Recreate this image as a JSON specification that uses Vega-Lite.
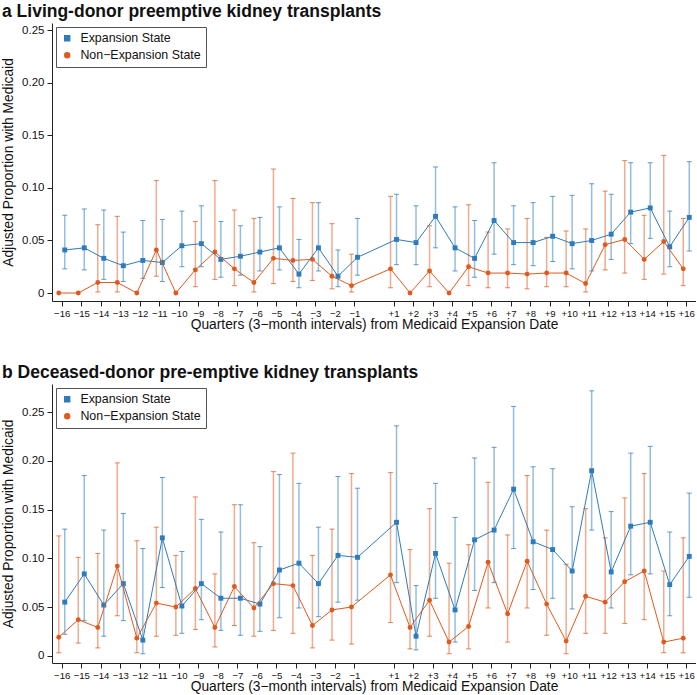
{
  "$schema": "https://vega.github.io/schema/vega-lite/v6.json",
  "padding": {"left": 1, "top": 2, "right": 0, "bottom": 0},
  "spacing": 31,
  "config": {
    "view": {"stroke": null},
    "font": "Liberation Sans",
    "axis": {"grid": false, "domainColor": "#222", "tickColor": "#222", "tickSize": 5, "labelColor": "#111", "titleColor": "#111", "titleFontWeight": "normal", "labelFont": "Liberation Sans", "titleFont": "Liberation Sans"},
    "axisX": {"labelFontSize": 9.6, "labelPadding": 2, "titleFontSize": 13.8, "titlePadding": 0, "labelFlush": false, "labelOverlap": false},
    "axisY": {"labelFontSize": 11.5, "labelPadding": 3, "titleFontSize": 13.8, "titlePadding": 6},
    "legend": {"orient": "top-left", "labelFont": "Liberation Sans", "labelFontSize": 12.4, "labelColor": "#111", "symbolSize": 24, "padding": 5, "rowPadding": 4, "labelOffset": 7, "strokeColor": "#555", "fillColor": "white", "offset": 4},
    "title": {"font": "Liberation Sans", "fontSize": 17.5, "fontWeight": "bold", "color": "#111", "anchor": "start", "frame": "group", "dx": -50, "offset": 3}
  },
  "datasets": {
    "a": [
      {"q": -16, "s": "Expansion State", "v": 0.041, "lo": 0.023, "hi": 0.074},
      {"q": -15, "s": "Expansion State", "v": 0.043, "lo": 0.022, "hi": 0.080},
      {"q": -14, "s": "Expansion State", "v": 0.033, "lo": 0.013, "hi": 0.079},
      {"q": -13, "s": "Expansion State", "v": 0.026, "lo": 0.011, "hi": 0.058},
      {"q": -12, "s": "Expansion State", "v": 0.031, "lo": 0.014, "hi": 0.069},
      {"q": -11, "s": "Expansion State", "v": 0.029, "lo": 0.011, "hi": 0.070},
      {"q": -10, "s": "Expansion State", "v": 0.045, "lo": 0.025, "hi": 0.078},
      {"q": -9, "s": "Expansion State", "v": 0.047, "lo": 0.025, "hi": 0.083},
      {"q": -8, "s": "Expansion State", "v": 0.032, "lo": 0.015, "hi": 0.068},
      {"q": -7, "s": "Expansion State", "v": 0.035, "lo": 0.017, "hi": 0.064},
      {"q": -6, "s": "Expansion State", "v": 0.039, "lo": 0.021, "hi": 0.072},
      {"q": -5, "s": "Expansion State", "v": 0.043, "lo": 0.022, "hi": 0.082},
      {"q": -4, "s": "Expansion State", "v": 0.018, "lo": 0.005, "hi": 0.051},
      {"q": -3, "s": "Expansion State", "v": 0.043, "lo": 0.021, "hi": 0.086},
      {"q": -2, "s": "Expansion State", "v": 0.016, "lo": 0.006, "hi": 0.041},
      {"q": -1, "s": "Expansion State", "v": 0.034, "lo": 0.017, "hi": 0.071},
      {"q": 1, "s": "Expansion State", "v": 0.051, "lo": 0.027, "hi": 0.094},
      {"q": 2, "s": "Expansion State", "v": 0.048, "lo": 0.027, "hi": 0.083},
      {"q": 3, "s": "Expansion State", "v": 0.073, "lo": 0.043, "hi": 0.120},
      {"q": 4, "s": "Expansion State", "v": 0.043, "lo": 0.021, "hi": 0.082},
      {"q": 5, "s": "Expansion State", "v": 0.033, "lo": 0.015, "hi": 0.069},
      {"q": 6, "s": "Expansion State", "v": 0.069, "lo": 0.037, "hi": 0.124},
      {"q": 7, "s": "Expansion State", "v": 0.048, "lo": 0.027, "hi": 0.083},
      {"q": 8, "s": "Expansion State", "v": 0.048, "lo": 0.026, "hi": 0.086},
      {"q": 9, "s": "Expansion State", "v": 0.054, "lo": 0.030, "hi": 0.092},
      {"q": 10, "s": "Expansion State", "v": 0.047, "lo": 0.023, "hi": 0.093},
      {"q": 11, "s": "Expansion State", "v": 0.050, "lo": 0.021, "hi": 0.104},
      {"q": 12, "s": "Expansion State", "v": 0.056, "lo": 0.032, "hi": 0.094},
      {"q": 13, "s": "Expansion State", "v": 0.077, "lo": 0.047, "hi": 0.124},
      {"q": 14, "s": "Expansion State", "v": 0.081, "lo": 0.052, "hi": 0.124},
      {"q": 15, "s": "Expansion State", "v": 0.044, "lo": 0.025, "hi": 0.078},
      {"q": 16, "s": "Expansion State", "v": 0.072, "lo": 0.040, "hi": 0.125},
      {"q": -16, "s": "Non−Expansion State", "v": 0, "lo": null, "hi": null},
      {"q": -15, "s": "Non−Expansion State", "v": 0, "lo": null, "hi": null},
      {"q": -14, "s": "Non−Expansion State", "v": 0.010, "lo": 0.001, "hi": 0.065},
      {"q": -13, "s": "Non−Expansion State", "v": 0.010, "lo": 0.001, "hi": 0.073},
      {"q": -12, "s": "Non−Expansion State", "v": 0, "lo": null, "hi": null},
      {"q": -11, "s": "Non−Expansion State", "v": 0.041, "lo": 0.016, "hi": 0.107},
      {"q": -10, "s": "Non−Expansion State", "v": 0, "lo": null, "hi": null},
      {"q": -9, "s": "Non−Expansion State", "v": 0.022, "lo": 0.006, "hi": 0.068},
      {"q": -8, "s": "Non−Expansion State", "v": 0.039, "lo": 0.013, "hi": 0.107},
      {"q": -7, "s": "Non−Expansion State", "v": 0.023, "lo": 0.007, "hi": 0.079},
      {"q": -6, "s": "Non−Expansion State", "v": 0.010, "lo": 0.001, "hi": 0.071},
      {"q": -5, "s": "Non−Expansion State", "v": 0.033, "lo": 0.009, "hi": 0.118},
      {"q": -4, "s": "Non−Expansion State", "v": 0.031, "lo": 0.011, "hi": 0.090},
      {"q": -3, "s": "Non−Expansion State", "v": 0.032, "lo": 0.012, "hi": 0.086},
      {"q": -2, "s": "Non−Expansion State", "v": 0.016, "lo": 0.004, "hi": 0.066},
      {"q": -1, "s": "Non−Expansion State", "v": 0.007, "lo": 0.001, "hi": 0.037},
      {"q": 1, "s": "Non−Expansion State", "v": 0.023, "lo": 0.005, "hi": 0.092},
      {"q": 2, "s": "Non−Expansion State", "v": 0, "lo": null, "hi": null},
      {"q": 3, "s": "Non−Expansion State", "v": 0.021, "lo": 0.006, "hi": 0.064},
      {"q": 4, "s": "Non−Expansion State", "v": 0, "lo": null, "hi": null},
      {"q": 5, "s": "Non−Expansion State", "v": 0.025, "lo": 0.007, "hi": 0.084},
      {"q": 6, "s": "Non−Expansion State", "v": 0.019, "lo": 0.005, "hi": 0.058},
      {"q": 7, "s": "Non−Expansion State", "v": 0.019, "lo": 0.005, "hi": 0.061},
      {"q": 8, "s": "Non−Expansion State", "v": 0.018, "lo": 0.004, "hi": 0.071},
      {"q": 9, "s": "Non−Expansion State", "v": 0.019, "lo": 0.006, "hi": 0.053},
      {"q": 10, "s": "Non−Expansion State", "v": 0.019, "lo": 0.006, "hi": 0.059},
      {"q": 11, "s": "Non−Expansion State", "v": 0.009, "lo": 0.001, "hi": 0.061},
      {"q": 12, "s": "Non−Expansion State", "v": 0.046, "lo": 0.022, "hi": 0.097},
      {"q": 13, "s": "Non−Expansion State", "v": 0.051, "lo": 0.019, "hi": 0.126},
      {"q": 14, "s": "Non−Expansion State", "v": 0.032, "lo": 0.013, "hi": 0.074},
      {"q": 15, "s": "Non−Expansion State", "v": 0.049, "lo": 0.018, "hi": 0.131},
      {"q": 16, "s": "Non−Expansion State", "v": 0.023, "lo": 0.007, "hi": 0.071}
    ],
    "b": [
      {"q": -16, "s": "Expansion State", "v": 0.055, "lo": 0.022, "hi": 0.130},
      {"q": -15, "s": "Expansion State", "v": 0.084, "lo": 0.036, "hi": 0.185},
      {"q": -14, "s": "Expansion State", "v": 0.052, "lo": 0.020, "hi": 0.129},
      {"q": -13, "s": "Expansion State", "v": 0.074, "lo": 0.036, "hi": 0.146},
      {"q": -12, "s": "Expansion State", "v": 0.016, "lo": 0.002, "hi": 0.110},
      {"q": -11, "s": "Expansion State", "v": 0.121, "lo": 0.070, "hi": 0.183},
      {"q": -10, "s": "Expansion State", "v": 0.051, "lo": 0.023, "hi": 0.107},
      {"q": -9, "s": "Expansion State", "v": 0.074, "lo": 0.037, "hi": 0.140},
      {"q": -8, "s": "Expansion State", "v": 0.059, "lo": 0.026, "hi": 0.127},
      {"q": -7, "s": "Expansion State", "v": 0.059, "lo": 0.021, "hi": 0.155},
      {"q": -6, "s": "Expansion State", "v": 0.053, "lo": 0.025, "hi": 0.112},
      {"q": -5, "s": "Expansion State", "v": 0.088, "lo": 0.039, "hi": 0.186},
      {"q": -4, "s": "Expansion State", "v": 0.095, "lo": 0.049, "hi": 0.177},
      {"q": -3, "s": "Expansion State", "v": 0.074, "lo": 0.040, "hi": 0.132},
      {"q": -2, "s": "Expansion State", "v": 0.103, "lo": 0.055, "hi": 0.184},
      {"q": -1, "s": "Expansion State", "v": 0.101, "lo": 0.057, "hi": 0.172},
      {"q": 1, "s": "Expansion State", "v": 0.137, "lo": 0.075, "hi": 0.236},
      {"q": 2, "s": "Expansion State", "v": 0.020, "lo": 0.006, "hi": 0.072},
      {"q": 3, "s": "Expansion State", "v": 0.105, "lo": 0.059, "hi": 0.177},
      {"q": 4, "s": "Expansion State", "v": 0.047, "lo": 0.014, "hi": 0.142},
      {"q": 5, "s": "Expansion State", "v": 0.119, "lo": 0.067, "hi": 0.203},
      {"q": 6, "s": "Expansion State", "v": 0.129, "lo": 0.075, "hi": 0.214},
      {"q": 7, "s": "Expansion State", "v": 0.171, "lo": 0.110, "hi": 0.256},
      {"q": 8, "s": "Expansion State", "v": 0.117, "lo": 0.068, "hi": 0.194},
      {"q": 9, "s": "Expansion State", "v": 0.109, "lo": 0.059, "hi": 0.192},
      {"q": 10, "s": "Expansion State", "v": 0.087, "lo": 0.048, "hi": 0.153},
      {"q": 11, "s": "Expansion State", "v": 0.190, "lo": 0.129, "hi": 0.272},
      {"q": 12, "s": "Expansion State", "v": 0.086, "lo": 0.049, "hi": 0.148},
      {"q": 13, "s": "Expansion State", "v": 0.133, "lo": 0.083, "hi": 0.208},
      {"q": 14, "s": "Expansion State", "v": 0.137, "lo": 0.084, "hi": 0.215},
      {"q": 15, "s": "Expansion State", "v": 0.073, "lo": 0.041, "hi": 0.127},
      {"q": 16, "s": "Expansion State", "v": 0.102, "lo": 0.060, "hi": 0.167},
      {"q": -16, "s": "Non−Expansion State", "v": 0.019, "lo": 0.003, "hi": 0.123},
      {"q": -15, "s": "Non−Expansion State", "v": 0.037, "lo": 0.013, "hi": 0.101},
      {"q": -14, "s": "Non−Expansion State", "v": 0.029, "lo": 0.008, "hi": 0.105},
      {"q": -13, "s": "Non−Expansion State", "v": 0.092, "lo": 0.041, "hi": 0.198},
      {"q": -12, "s": "Non−Expansion State", "v": 0.018, "lo": 0.003, "hi": 0.118},
      {"q": -11, "s": "Non−Expansion State", "v": 0.054, "lo": 0.020, "hi": 0.132},
      {"q": -10, "s": "Non−Expansion State", "v": 0.050, "lo": 0.021, "hi": 0.103},
      {"q": -9, "s": "Non−Expansion State", "v": 0.069, "lo": 0.027, "hi": 0.163},
      {"q": -8, "s": "Non−Expansion State", "v": 0.029, "lo": 0.009, "hi": 0.084},
      {"q": -7, "s": "Non−Expansion State", "v": 0.071, "lo": 0.031, "hi": 0.155},
      {"q": -6, "s": "Non−Expansion State", "v": 0.049, "lo": 0.020, "hi": 0.116},
      {"q": -5, "s": "Non−Expansion State", "v": 0.074, "lo": 0.026, "hi": 0.189},
      {"q": -4, "s": "Non−Expansion State", "v": 0.072, "lo": 0.023, "hi": 0.208},
      {"q": -3, "s": "Non−Expansion State", "v": 0.031, "lo": 0.008, "hi": 0.103},
      {"q": -2, "s": "Non−Expansion State", "v": 0.047, "lo": 0.016, "hi": 0.130},
      {"q": -1, "s": "Non−Expansion State", "v": 0.050, "lo": 0.012, "hi": 0.187},
      {"q": 1, "s": "Non−Expansion State", "v": 0.083, "lo": 0.034, "hi": 0.188},
      {"q": 2, "s": "Non−Expansion State", "v": 0.029, "lo": 0.007, "hi": 0.109},
      {"q": 3, "s": "Non−Expansion State", "v": 0.057, "lo": 0.020, "hi": 0.151},
      {"q": 4, "s": "Non−Expansion State", "v": 0.014, "lo": 0.002, "hi": 0.095},
      {"q": 5, "s": "Non−Expansion State", "v": 0.030, "lo": 0.007, "hi": 0.114},
      {"q": 6, "s": "Non−Expansion State", "v": 0.096, "lo": 0.049, "hi": 0.178},
      {"q": 7, "s": "Non−Expansion State", "v": 0.043, "lo": 0.014, "hi": 0.124},
      {"q": 8, "s": "Non−Expansion State", "v": 0.097, "lo": 0.049, "hi": 0.185},
      {"q": 9, "s": "Non−Expansion State", "v": 0.053, "lo": 0.021, "hi": 0.129},
      {"q": 10, "s": "Non−Expansion State", "v": 0.015, "lo": 0.002, "hi": 0.094},
      {"q": 11, "s": "Non−Expansion State", "v": 0.061, "lo": 0.023, "hi": 0.151},
      {"q": 12, "s": "Non−Expansion State", "v": 0.055, "lo": 0.023, "hi": 0.121},
      {"q": 13, "s": "Non−Expansion State", "v": 0.076, "lo": 0.033, "hi": 0.162},
      {"q": 14, "s": "Non−Expansion State", "v": 0.087, "lo": 0.037, "hi": 0.187},
      {"q": 15, "s": "Non−Expansion State", "v": 0.014, "lo": 0.003, "hi": 0.087},
      {"q": 16, "s": "Non−Expansion State", "v": 0.018, "lo": 0.003, "hi": 0.121}
    ]
  },
  "vconcat": [
    {
      "title": {"text": "a  Living-donor preemptive kidney transplants"},
      "width": 644,
      "height": 278,
      "data": {"name": "a"},
      "encoding": {
        "x": {"field": "q", "type": "quantitative", "title": "Quarters (3−month intervals) from Medicaid Expansion Date", "scale": {"domain": [-16.5, 16.5], "nice": false, "zero": false}, "axis": {"values": [-16, -15, -14, -13, -12, -11, -10, -9, -8, -7, -6, -5, -4, -3, -2, -1, 1, 2, 3, 4, 5, 6, 7, 8, 9, 10, 11, 12, 13, 14, 15, 16], "format": "d", "labelExpr": "datum.value > 0 ? '+' + datum.label : datum.label"}}
      },
      "layer": [
        {"mark": {"type": "point", "filled": true, "opacity": 1, "size": 24, "xOffset": {"expr": "datum.s === 'Expansion State' ? 3 : -3"}},
         "encoding": {
           "y": {"field": "v", "type": "quantitative", "title": "Adjusted Proportion with Medicaid", "scale": {"domain": [-0.0076, 0.257], "nice": false, "zero": false}, "axis": {"values": [0, 0.05, 0.1, 0.15, 0.2, 0.25], "labelExpr": "datum.value == 0 ? '0' : format(datum.value, '.2f')"}},
           "color": {"field": "s", "type": "nominal", "scale": {"domain": ["Expansion State", "Non−Expansion State"], "range": ["#2e7bbd", "#e05a1d"]}, "legend": {"title": null, "orient": "top-left"}},
           "shape": {"field": "s", "type": "nominal", "scale": {"domain": ["Expansion State", "Non−Expansion State"], "range": ["square", "circle"]}, "legend": {"title": null, "orient": "top-left"}}
         }},
        {"data": {"values": [{}]}, "mark": {"type": "rule", "color": "#b31c2b", "strokeWidth": 1.3}, "encoding": {"x": {"datum": 0}}},
        {"mark": {"type": "rule", "strokeWidth": 1.5, "opacity": 0.5, "xOffset": {"expr": "datum.s === 'Expansion State' ? 3 : -3"}},
         "encoding": {"y": {"field": "lo", "type": "quantitative", "title": "Adjusted Proportion with Medicaid", "scale": {"domain": [-0.0076, 0.257], "nice": false, "zero": false}, "axis": {"values": [0, 0.05, 0.1, 0.15, 0.2, 0.25], "labelExpr": "datum.value == 0 ? '0' : format(datum.value, '.2f')"}}, "y2": {"field": "hi"},
           "color": {"field": "s", "type": "nominal", "scale": {"domain": ["Expansion State", "Non−Expansion State"], "range": ["#2e7bbd", "#e05a1d"]}, "legend": null}}},
        {"mark": {"type": "tick", "orient": "horizontal", "size": 5, "thickness": 1, "opacity": 0.75, "xOffset": {"expr": "datum.s === 'Expansion State' ? 3 : -3"}},
         "encoding": {"y": {"field": "hi", "type": "quantitative", "title": "Adjusted Proportion with Medicaid", "scale": {"domain": [-0.0076, 0.257], "nice": false, "zero": false}, "axis": {"values": [0, 0.05, 0.1, 0.15, 0.2, 0.25], "labelExpr": "datum.value == 0 ? '0' : format(datum.value, '.2f')"}},
           "color": {"field": "s", "type": "nominal", "scale": {"domain": ["Expansion State", "Non−Expansion State"], "range": ["#2e7bbd", "#e05a1d"]}, "legend": null}}},
        {"mark": {"type": "tick", "orient": "horizontal", "size": 5, "thickness": 1, "opacity": 0.75, "xOffset": {"expr": "datum.s === 'Expansion State' ? 3 : -3"}},
         "encoding": {"y": {"field": "lo", "type": "quantitative", "title": "Adjusted Proportion with Medicaid", "scale": {"domain": [-0.0076, 0.257], "nice": false, "zero": false}, "axis": {"values": [0, 0.05, 0.1, 0.15, 0.2, 0.25], "labelExpr": "datum.value == 0 ? '0' : format(datum.value, '.2f')"}},
           "color": {"field": "s", "type": "nominal", "scale": {"domain": ["Expansion State", "Non−Expansion State"], "range": ["#2e7bbd", "#e05a1d"]}, "legend": null}}},
        {"mark": {"type": "line", "strokeWidth": 1, "xOffset": {"expr": "datum.s === 'Expansion State' ? 3 : -3"}},
         "encoding": {"y": {"field": "v", "type": "quantitative", "title": "Adjusted Proportion with Medicaid", "scale": {"domain": [-0.0076, 0.257], "nice": false, "zero": false}, "axis": {"values": [0, 0.05, 0.1, 0.15, 0.2, 0.25], "labelExpr": "datum.value == 0 ? '0' : format(datum.value, '.2f')"}},
           "color": {"field": "s", "type": "nominal", "scale": {"domain": ["Expansion State", "Non−Expansion State"], "range": ["#2e7bbd", "#e05a1d"]}, "legend": null}}}
      ]
    },
    {
      "title": {"text": "b  Deceased-donor pre-emptive kidney transplants"},
      "width": 644,
      "height": 279,
      "data": {"name": "b"},
      "encoding": {
        "x": {"field": "q", "type": "quantitative", "title": "Quarters (3−month intervals) from Medicaid Expansion Date", "scale": {"domain": [-16.5, 16.5], "nice": false, "zero": false}, "axis": {"values": [-16, -15, -14, -13, -12, -11, -10, -9, -8, -7, -6, -5, -4, -3, -2, -1, 1, 2, 3, 4, 5, 6, 7, 8, 9, 10, 11, 12, 13, 14, 15, 16], "format": "d", "labelExpr": "datum.value > 0 ? '+' + datum.label : datum.label"}}
      },
      "layer": [
        {"mark": {"type": "point", "filled": true, "opacity": 1, "size": 24, "xOffset": {"expr": "datum.s === 'Expansion State' ? 3 : -3"}},
         "encoding": {
           "y": {"field": "v", "type": "quantitative", "title": "Adjusted Proportion with Medicaid", "scale": {"domain": [-0.0075, 0.279], "nice": false, "zero": false}, "axis": {"values": [0, 0.05, 0.1, 0.15, 0.2, 0.25], "labelExpr": "datum.value == 0 ? '0' : format(datum.value, '.2f')"}},
           "color": {"field": "s", "type": "nominal", "scale": {"domain": ["Expansion State", "Non−Expansion State"], "range": ["#2e7bbd", "#e05a1d"]}, "legend": {"title": null, "orient": "top-left"}},
           "shape": {"field": "s", "type": "nominal", "scale": {"domain": ["Expansion State", "Non−Expansion State"], "range": ["square", "circle"]}, "legend": {"title": null, "orient": "top-left"}}
         }},
        {"data": {"values": [{}]}, "mark": {"type": "rule", "color": "#b31c2b", "strokeWidth": 1.3}, "encoding": {"x": {"datum": 0}}},
        {"mark": {"type": "rule", "strokeWidth": 1.5, "opacity": 0.5, "xOffset": {"expr": "datum.s === 'Expansion State' ? 3 : -3"}},
         "encoding": {"y": {"field": "lo", "type": "quantitative", "title": "Adjusted Proportion with Medicaid", "scale": {"domain": [-0.0075, 0.279], "nice": false, "zero": false}, "axis": {"values": [0, 0.05, 0.1, 0.15, 0.2, 0.25], "labelExpr": "datum.value == 0 ? '0' : format(datum.value, '.2f')"}}, "y2": {"field": "hi"},
           "color": {"field": "s", "type": "nominal", "scale": {"domain": ["Expansion State", "Non−Expansion State"], "range": ["#2e7bbd", "#e05a1d"]}, "legend": null}}},
        {"mark": {"type": "tick", "orient": "horizontal", "size": 5, "thickness": 1, "opacity": 0.75, "xOffset": {"expr": "datum.s === 'Expansion State' ? 3 : -3"}},
         "encoding": {"y": {"field": "hi", "type": "quantitative", "title": "Adjusted Proportion with Medicaid", "scale": {"domain": [-0.0075, 0.279], "nice": false, "zero": false}, "axis": {"values": [0, 0.05, 0.1, 0.15, 0.2, 0.25], "labelExpr": "datum.value == 0 ? '0' : format(datum.value, '.2f')"}},
           "color": {"field": "s", "type": "nominal", "scale": {"domain": ["Expansion State", "Non−Expansion State"], "range": ["#2e7bbd", "#e05a1d"]}, "legend": null}}},
        {"mark": {"type": "tick", "orient": "horizontal", "size": 5, "thickness": 1, "opacity": 0.75, "xOffset": {"expr": "datum.s === 'Expansion State' ? 3 : -3"}},
         "encoding": {"y": {"field": "lo", "type": "quantitative", "title": "Adjusted Proportion with Medicaid", "scale": {"domain": [-0.0075, 0.279], "nice": false, "zero": false}, "axis": {"values": [0, 0.05, 0.1, 0.15, 0.2, 0.25], "labelExpr": "datum.value == 0 ? '0' : format(datum.value, '.2f')"}},
           "color": {"field": "s", "type": "nominal", "scale": {"domain": ["Expansion State", "Non−Expansion State"], "range": ["#2e7bbd", "#e05a1d"]}, "legend": null}}},
        {"mark": {"type": "line", "strokeWidth": 1, "xOffset": {"expr": "datum.s === 'Expansion State' ? 3 : -3"}},
         "encoding": {"y": {"field": "v", "type": "quantitative", "title": "Adjusted Proportion with Medicaid", "scale": {"domain": [-0.0075, 0.279], "nice": false, "zero": false}, "axis": {"values": [0, 0.05, 0.1, 0.15, 0.2, 0.25], "labelExpr": "datum.value == 0 ? '0' : format(datum.value, '.2f')"}},
           "color": {"field": "s", "type": "nominal", "scale": {"domain": ["Expansion State", "Non−Expansion State"], "range": ["#2e7bbd", "#e05a1d"]}, "legend": null}}}
      ]
    }
  ],
  "resolve": {"scale": {"color": "independent", "shape": "independent", "y": "independent"}}
}
